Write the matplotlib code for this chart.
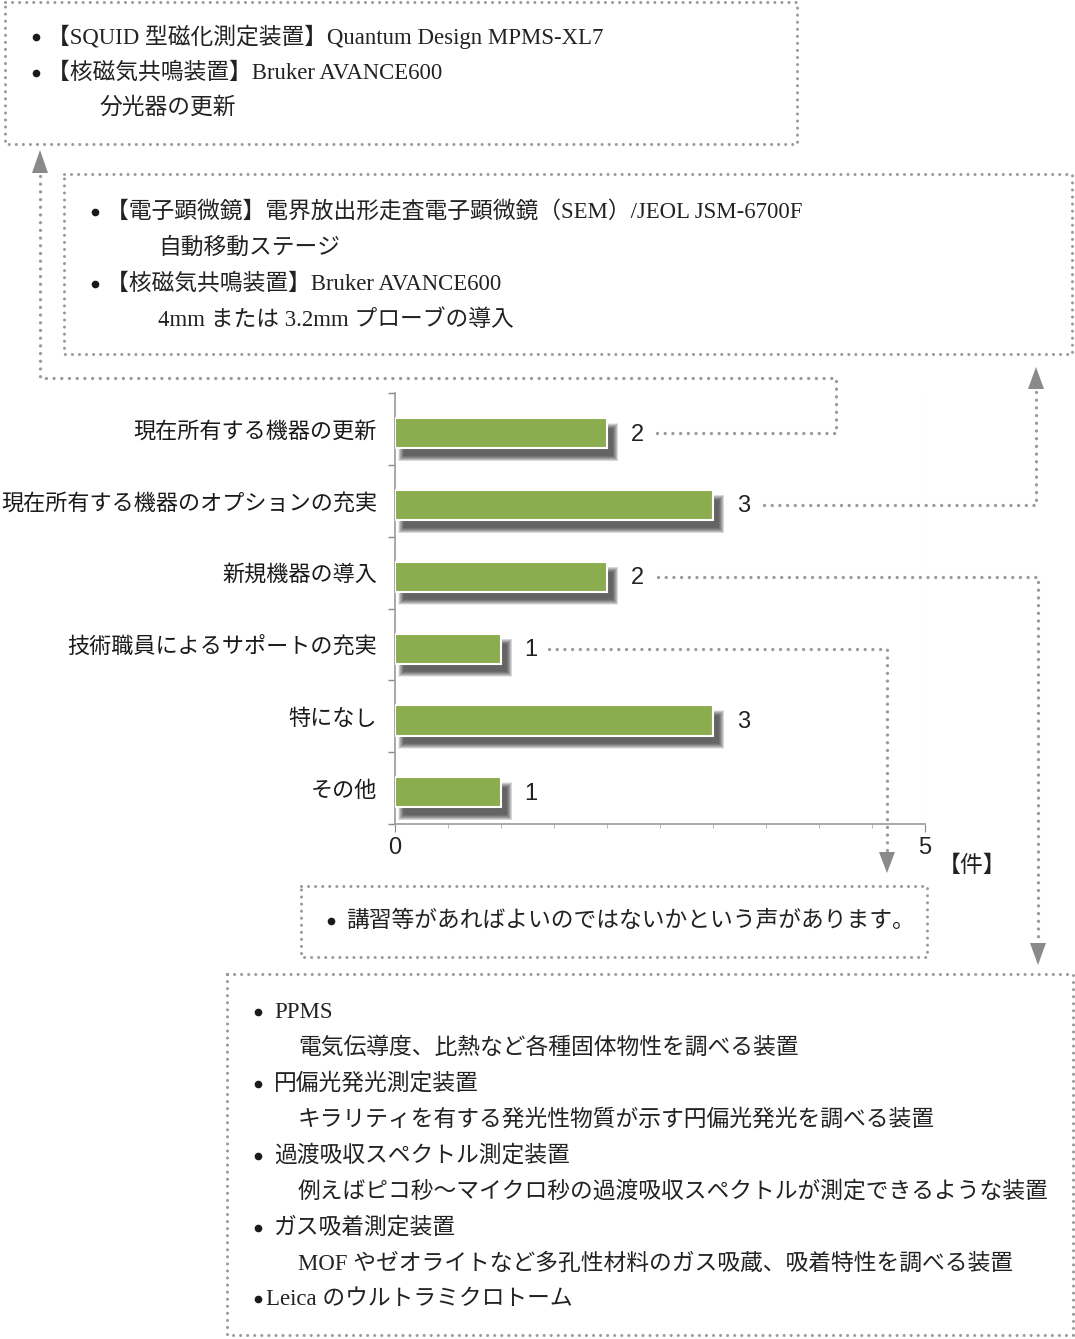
import numpy as np
import matplotlib
matplotlib.use("Agg")
import matplotlib.pyplot as plt
from matplotlib import transforms
from matplotlib.patches import Polygon

W, H = 1075, 1339

# data
categories = ["現在所有する機器の更新", "現在所有する機器のオプションの充実", "新規機器の導入",
              "技術職員によるサポートの充実", "特になし", "その他"]
counts = [2, 3, 2, 1, 3, 1]
x_major = [0, 5]
unit_label = "【件】"

box1_lines = [("•", "【SQUID 型磁化測定装置】Quantum Design MPMS-XL7"),
              ("•", "【核磁気共鳴装置】Bruker AVANCE600"),
              ("", "分光器の更新")]
box2_lines = [("•", "【電子顕微鏡】電界放出形走査電子顕微鏡（SEM）/JEOL JSM-6700F"),
              ("", "自動移動ステージ"),
              ("•", "【核磁気共鳴装置】Bruker AVANCE600"),
              ("", "4mm または 3.2mm プローブの導入")]
box3_lines = [("•", "講習等があればよいのではないかという声があります。")]
box4_lines = [("•", "PPMS"),
              ("", "電気伝導度、比熱など各種固体物性を調べる装置"),
              ("•", "円偏光発光測定装置"),
              ("", "キラリティを有する発光性物質が示す円偏光発光を調べる装置"),
              ("•", "過渡吸収スペクトル測定装置"),
              ("", "例えばピコ秒～マイクロ秒の過渡吸収スペクトルが測定できるような装置"),
              ("•", "ガス吸着測定装置"),
              ("", "MOF やゼオライトなど多孔性材料のガス吸蔵、吸着特性を調べる装置"),
              ("•", "Leica のウルトラミクロトーム")]

SERIF = ["Liberation Serif", "Noto Sans CJK JP"]
GOTHIC = ["Noto Sans CJK JP", "DejaVu Sans"]
SANS = ["Liberation Sans", "DejaVu Sans"]
GREEN = "#8cad4f"
DOT = "#9a9a9a"
ARROW = "#8a8a8a"
TXT = 16.4

fig = plt.figure(figsize=(W / 100, H / 100), dpi=100)

# overlay in pixel coordinates (origin top-left)
ov = fig.add_axes([0, 0, 1, 1])
ov.set_xlim(0, W)
ov.set_ylim(H, 0)
ov.axis("off")
ov.patch.set_alpha(0)

# bar chart
ax = fig.add_axes([395 / W, 1 - 824 / H, 530 / W, 431 / H])
pos = np.arange(len(categories))
ax.set_xlim(0, 5)
ax.set_ylim(len(categories) - 0.5, -0.5)

bar_h = 0.42
# soft drop shadow: stacked translucent layers of shrinking size
for g in range(11, -1, -1):
    tr = transforms.offset_copy(ax.transData, fig=fig, x=7, y=-9, units="dots")
    ax.barh(pos + 0.06, np.array(counts) + (g - 3) / 106, height=bar_h + (g - 3) / 71.8,
            left=-(g - 3) / 2 / 106, color="#1a1a1a", alpha=0.085, transform=tr,
            zorder=1, linewidth=0)
bars = ax.barh(pos + 0.06, counts, height=bar_h, color=GREEN, edgecolor="white",
               linewidth=1.5, zorder=3)

for i, v in enumerate(counts):
    ax.annotate(str(v), (v, i + 0.06), xytext=(17, -1), textcoords="offset points",
                ha="left", va="center", fontsize=17, family=SANS, color="#222")

ax.axvline(5, color="#aaa", lw=0.8, ls=(0, (1, 1.2)), zorder=0)

ax.set_yticks(pos, labels=categories)
ax.set_yticks(np.arange(-0.5, len(categories), 1), minor=True)
ax.tick_params(axis="y", which="major", length=0, pad=13)
ax.tick_params(axis="y", which="minor", length=5, color="#888", width=1)
for lab in ax.get_yticklabels():
    lab.set_family(GOTHIC)
    lab.set_fontsize(15.9)
    lab.set_color("#1a1a1a")

ax.set_xticks(x_major)
ax.set_xticks(np.arange(0, 5.01, 0.5), minor=True)
ax.tick_params(axis="x", which="major", length=6, color="#888", pad=3)
ax.tick_params(axis="x", which="minor", length=3, color="#aaa")
for lab in ax.get_xticklabels():
    lab.set_family(SANS)
    lab.set_fontsize(17)
    lab.set_color("#222")

for s in ["top", "right"]:
    ax.spines[s].set_visible(False)
ax.spines["left"].set_color("#999")
ax.spines["bottom"].set_color("#999")
ax.spines["left"].set_linewidth(1.2)
ax.spines["bottom"].set_linewidth(1.2)
ax.patch.set_alpha(0)

ov.text(972, 865, unit_label, ha="center", va="center", fontsize=16.5,
        family=GOTHIC, color="#222")


def dotted(xs, ys, lw=2.4, color=DOT):
    ov.plot(xs, ys, color=color, lw=lw, ls=(0, (0.01, 2.3)),
            dash_capstyle="round", solid_capstyle="round")


def box(x0, y0, x1, y1):
    dotted([x0, x1, x1, x0, x0], [y0, y0, y1, y1, y0], lw=2.2)


def arrowhead(x, y_base, y_tip):
    ov.add_patch(Polygon([[x - 8, y_base], [x + 8, y_base], [x, y_tip]],
                         closed=True, color=ARROW, lw=0))


def bullet(x, y):
    ov.plot([x], [y], "o", ms=5.5, color="#1a1a1a", mec="none")


def write(lines, x_bullet, x_text, x_indent, y0, step=36):
    for k, (b, t) in enumerate(lines):
        y = y0 + k * step
        if b:
            bullet(x_bullet, y)
            ov.text(x_text, y, t, ha="left", va="center", fontsize=TXT,
                    family=SERIF, color="#222")
        else:
            ov.text(x_indent, y, t, ha="left", va="center", fontsize=TXT,
                    family=SERIF, color="#222")


box(5, 2, 797, 144)
write(box1_lines, 36, 47, 100, 37, 35.5)
box(64, 174, 1072, 354)
write(box2_lines, 95, 106, 158, 212, 36)
box(301, 886, 927, 957)
write(box3_lines, 331, 346, 346, 921)
box(227, 974, 1073, 1335)
write(box4_lines[:-1], 258, 274, 298, 1012, 36)
bullet(258, 1299)
ov.text(266, 1299, box4_lines[-1][1], ha="left", va="center", fontsize=TXT,
        family=SERIF, color="#222")


def px(x, y):
    X, Y = ax.transData.transform((x, y))
    return X, H - Y


# connectors from value labels to boxes
starts = [px(v, i + 0.06) for i, v in enumerate(counts)]
sx, sy = starts[0]
dotted([sx + 50, 836, 836, 40, 40], [sy, sy, 378, 378, 173])
arrowhead(40, 173, 150)
sx, sy = starts[1]
dotted([sx + 51, 1036, 1036], [sy, sy, 389])
arrowhead(1036, 389, 367)
sx, sy = starts[2]
dotted([sx + 51, 1038, 1038], [sy, sy, 943])
arrowhead(1038, 943, 965)
sx, sy = starts[3]
dotted([sx + 48, 887, 887], [sy, sy, 852])
arrowhead(887, 852, 873)

fig.savefig("out.png", dpi=100)
